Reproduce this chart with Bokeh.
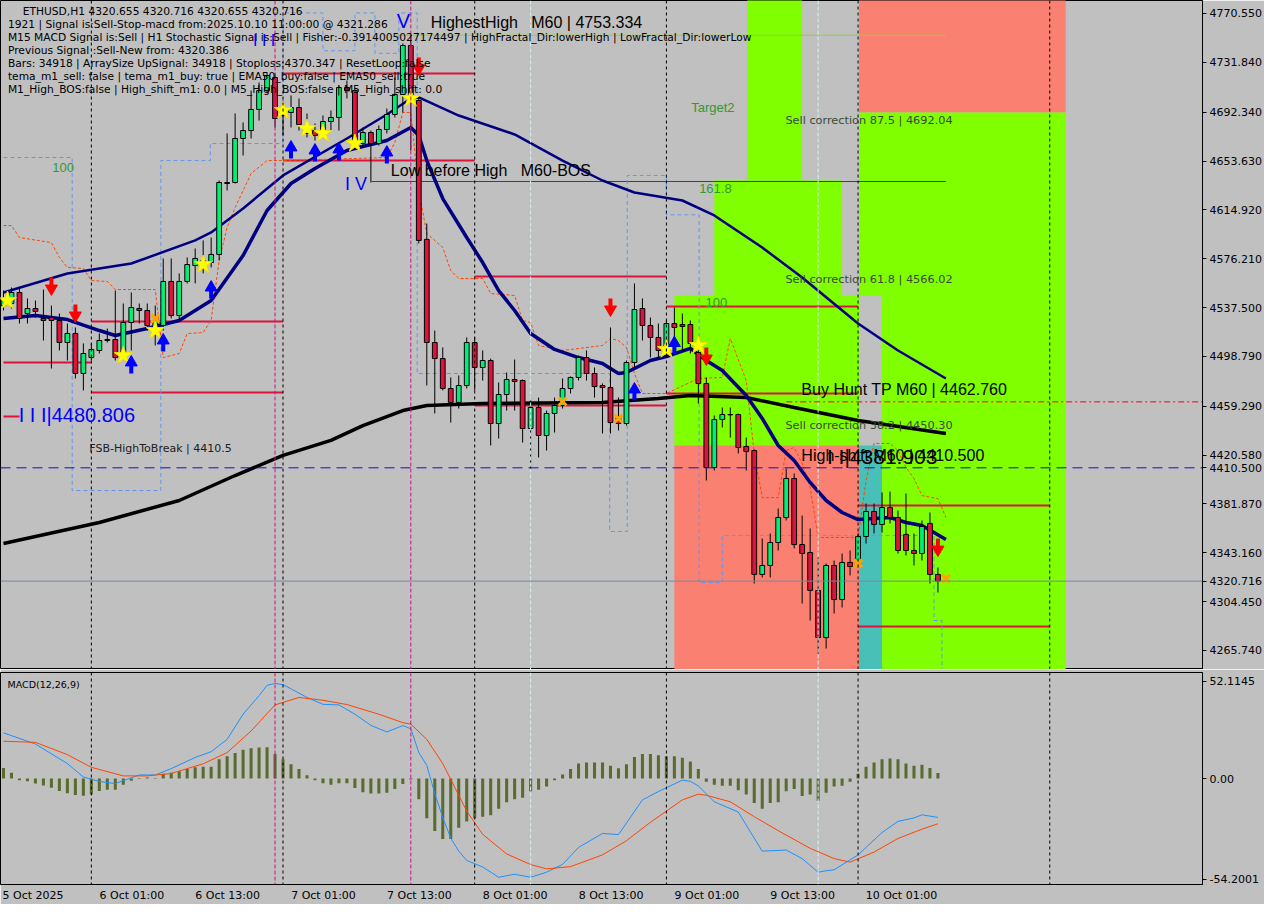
from bokeh.plotting import figure
from bokeh.models import Range1d, FixedTicker, Span, Label, PrintfTickFormatter
from bokeh.layouts import column
from bokeh.embed import file_html
from bokeh.resources import INLINE

# ---------------- data ----------------
opens = [4539.1,4540.7,4549.45,4532.8,4536.75,4528.8,4529.6,4527.25,4509.8,4517.0,
         4485.25,4497.9,4503.5,4512.2,4512.2,4501.1,4525.65,4536.75,4535.2,4523.3,
         4523.3,4558.2,4531.2,4558.2,4570.8,4569.3,4573.2,4579.6,4636.6,4636.6,
         4671.5,4677.8,4694.5,4709.5,4719.8,4689.7,4692.1,4696.05,4679.4,4677.8,
         4677.8,4684.95,4688.1,4711.9,4709.5,4667.5,4676.25,4667.5,4678.6,4690.5,
         4706.4,4745.2,4701.6,4591.5,4509.8,4497.1,4473.35,4462.3,4475.7,4509.8,
         4490.0,4495.55,4445.6,4468.6,4480.5,4479.7,4441.65,4458.3,4436.1,4453.55,
         4459.9,4473.35,4482.1,4497.9,4485.25,4475.7,4474.1,4450.4,4445.6,4493.95,
         4536.75,4523.3,4513.8,4503.5,4524.85,4524.05,4524.05,4501.9,4477.3,4410.75,
         4448.8,4452.75,4452.75,4427.4,4424.2,4326.0,4333.1,4351.3,4371.1,4402.05,
         4349.7,4343.4,4313.3,4276.0,4333.1,4306.1,4335.5,4335.5,4356.1,4375.9,
         4365.6,4379.05,4371.1,4357.7,4345.0,4342.6,4366.4,4326.0]
highs = [4551.0,4553.4,4553.4,4544.7,4543.1,4551.8,4539.1,4532.8,4524.85,4521.7,
         4509.05,4509.05,4517.0,4520.9,4551.0,4540.7,4549.45,4540.7,4540.7,4539.1,
         4576.4,4576.4,4564.5,4577.2,4584.3,4590.7,4593.0,4638.2,4675.45,4691.3,
         4684.2,4709.5,4715.9,4723.8,4723.0,4701.6,4705.6,4703.2,4691.3,4683.4,
         4689.7,4693.7,4713.5,4717.45,4711.0,4680.2,4677.8,4681.8,4695.25,4719.8,
         4746.8,4753.33,4704.0,4604.1,4519.3,4505.9,4482.1,4483.7,4513.8,4513.8,
         4503.5,4497.1,4478.1,4486.05,4496.3,4480.5,4466.2,4466.2,4455.9,4466.2,
         4481.3,4482.9,4499.5,4503.5,4490.0,4477.3,4521.7,4466.2,4495.55,4556.6,
         4544.7,4529.6,4524.85,4527.25,4537.55,4532.8,4527.25,4503.5,4482.1,4452.0,
         4458.3,4458.3,4453.5,4434.5,4425.0,4354.5,4358.45,4378.25,4409.95,4406.0,
         4372.7,4362.4,4339.45,4334.7,4337.05,4342.6,4345.0,4358.45,4382.2,4382.2,
         4390.95,4391.7,4376.7,4390.15,4358.45,4368.75,4375.1,4331.5]
lows = [4535.2,4536.75,4524.85,4524.85,4529.6,4511.4,4489.2,4503.5,4495.55,4481.3,
        4471.8,4495.55,4501.1,4509.8,4495.55,4497.9,4503.5,4524.85,4519.3,4507.45,
        4519.3,4528.8,4527.25,4556.6,4556.6,4564.5,4569.3,4574.8,4630.3,4635.8,
        4658.0,4671.5,4685.75,4707.2,4680.2,4673.9,4680.2,4677.8,4672.3,4669.9,
        4672.3,4677.8,4677.8,4703.2,4664.35,4664.35,4636.6,4665.9,4675.45,4688.1,
        4692.1,4662.0,4588.3,4475.7,4453.55,4471.8,4446.4,4457.5,4473.35,4471.8,
        4479.7,4428.2,4433.7,4455.9,4455.9,4430.55,4408.4,4418.7,4424.2,4438.5,
        4457.5,4469.4,4479.7,4479.7,4466.2,4437.7,4437.7,4440.1,4444.0,4490.0,
        4511.4,4497.9,4497.9,4499.5,4501.1,4503.5,4501.1,4461.5,4400.45,4408.4,
        4442.45,4434.5,4421.85,4408.4,4318.8,4323.6,4323.6,4345.0,4368.75,4346.6,
        4302.95,4289.5,4263.3,4267.3,4295.05,4299.8,4325.2,4333.1,4350.5,4358.45,
        4359.25,4366.4,4342.6,4341.0,4333.1,4337.05,4318.8,4311.7]
closes = [4544.7,4549.45,4528.8,4536.75,4534.4,4527.25,4527.25,4509.8,4517.0,4485.25,
          4501.1,4504.3,4511.4,4511.4,4497.9,4525.65,4537.55,4535.2,4523.3,4527.25,
          4558.2,4531.2,4558.2,4571.6,4576.4,4574.8,4579.6,4636.6,4635.8,4671.5,
          4677.8,4694.5,4709.5,4721.4,4687.3,4693.7,4696.05,4682.6,4675.45,4673.9,
          4684.95,4688.1,4711.9,4709.5,4667.5,4676.25,4667.5,4678.6,4690.5,4706.4,
          4745.2,4705.6,4590.7,4509.8,4497.1,4473.35,4462.3,4475.7,4509.8,4490.0,
          4495.55,4445.6,4468.6,4480.5,4478.9,4441.65,4458.3,4436.1,4453.55,4459.9,
          4473.35,4482.1,4497.9,4485.25,4474.9,4474.1,4446.4,4445.6,4493.95,4535.95,
          4523.3,4513.8,4503.5,4524.85,4521.7,4522.5,4509.05,4477.3,4410.75,4448.8,
          4452.75,4452.5,4426.6,4423.4,4326.0,4333.1,4351.3,4371.1,4402.05,4349.7,
          4342.6,4313.3,4276.0,4333.1,4306.1,4335.5,4332.3,4356.1,4375.9,4365.6,
          4379.05,4371.1,4345.0,4345.0,4342.6,4364.0,4326.0,4320.716]

time_tick_bars = [0, 12, 24, 36, 48, 60, 72, 84, 96, 108]
time_tick_labels = ["5 Oct 2025", "6 Oct 01:00", "6 Oct 13:00", "7 Oct 01:00", "7 Oct 13:00",
                    "8 Oct 01:00", "8 Oct 13:00", "9 Oct 01:00", "9 Oct 13:00", "10 Oct 01:00"]
price_ticks = [4770.550, 4731.840, 4692.340, 4653.630, 4614.920, 4576.210, 4537.500,
               4498.790, 4459.290, 4420.580, 4381.870, 4343.160, 4304.450, 4265.740]
macd_ticks = [52.1145, 0.0, -54.2001]
macd_tick_labels = ["52.1145", "0.00", "-54.2001"]

# moving averages (bar index, value)
fast_k = [0,4,8,12,14,18,22,26,30,33,36,39,43,45,48,51,52,53,55,58,60,62,64,66,69,72,75,77,78,81,
          83,86,88,90,93,95,97,99,101,103,105,107,109,111,113,115,118]
fast_v = [4528.8,4531.2,4528.0,4519.3,4515.4,4520.9,4527.25,4543.1,4578.8,4614.4,4635.8,4647.7,
          4662.0,4665.1,4669.9,4680.2,4673.9,4654.0,4623.9,4593.0,4573.2,4551.0,4535.2,4517.0,
          4504.3,4497.9,4493.2,4485.25,4486.05,4495.55,4498.7,4505.1,4495.55,4487.6,4467.8,
          4449.6,4428.2,4416.3,4398.9,4384.6,4375.1,4369.5,4370.3,4371.1,4367.2,4364.8,4353.7]
ema50_k = [0,8,16,24,26,30,35,43,48,51,52,57,64,70,75,79,85,89,95,100,107,112,118]
ema50_v = [4549.45,4564.5,4572.4,4590.7,4597.0,4616.0,4642.2,4671.5,4690.5,4703.2,4704.0,
           4689.7,4674.7,4654.0,4638.2,4628.7,4622.35,4610.5,4585.1,4561.3,4524.85,4503.5,4481.3]
ma200_k = [0,12,22,29,35,41,45,50,53,60,75,82,86,93,99,107,118]
ma200_v = [4350.5,4367.2,4384.6,4404.4,4420.3,4432.2,4444.0,4455.9,4459.9,4461.5,4462.3,
           4465.45,4467.8,4466.2,4458.3,4448.0,4437.7]
trail_k = [0,1,2,6,7,8,10,11,13,14,19,20,22,23,25,26,27,28,29,31,33,35,48,49,50,51,52,53,55,56,
           57,60,61,64,65,66,67,70,75,76,77,78,79,80,83,87,90,91,93,94,95,97,98,99,100,101,102,
           107,108,109,111,112,113,114,115,117,118]
trail_v = [4602.5,4602.5,4593.0,4589.0,4577.2,4569.3,4568.5,4558.9,4558.2,4551.8,4551.8,4497.9,
           4501.1,4516.9,4517.7,4527.25,4574.8,4601.0,4616.8,4643.7,4654.0,4654.0,4656.4,4668.3,
           4692.1,4692.1,4630.3,4596.2,4585.1,4566.8,4560.5,4560.5,4548.65,4547.1,4527.25,
           4525.65,4507.45,4503.5,4507.45,4513.0,4511.4,4505.9,4485.25,4469.4,4469.4,4481.3,
           4482.1,4513.0,4479.7,4421.85,4386.9,4386.9,4424.2,4426.6,4413.9,4394.9,4355.3,
           4355.3,4400.45,4429.8,4429.8,4424.2,4410.75,4402.05,4388.5,4386.1,4371.1]
chan_k = [0,8.6,19.7,25.9,35,40,44,46.5,49.5,51.8,75.9,78.1,83,87.1,90,116.5,117.5]
chan_v = [4656.4,4392.5,4654.0,4667.5,4771,4741,4771,4739,4771,4485.25,4360.0,4642.2,4611.0,
          4319.6,4356.9,4289.5,4250]

# zones
zone_left = [93.125, 89, 84, 84, 107.125, 107.125, 110, 107.125]
zone_right = [100, 105, 107.125, 107.125, 133, 133, 133, 110]
zone_bottom = [4638.2, 4547.1, 4428.2, 4240, 4692.1, 4547.1, 4240, 4240]
zone_top = [4790, 4638.2, 4547.1, 4428.2, 4790, 4692.1, 4547.1, 4428.2]
zone_kind = ["buy", "buy", "buy", "sell", "sell", "buy", "buy", "shift"]

# levels
lvl_from = [35, 35, 59, 83, 11, 0, 11, 59, 83, 0, 107, 107]
lvl_to = [59, 59, 83, 107, 35, 11, 35, 83, 107, 2, 131, 131]
lvl_price = [4723.0, 4654.0, 4562.1, 4538.35, 4526.4, 4494.0, 4470.2, 4459.9, 4469.4, 4451.2,
             4380.65, 4284.75]
highest_high = 4753.334
low_before_high = 4637.4
buy_hunt_tp = 4462.760
fsb_level = 4410.5
last_price = 4320.716

# signals
star_k = [0.5, 15, 19, 25, 35, 38, 40, 44, 51, 83, 87]
star_p = [4543.1, 4499.5, 4519.3, 4571.6, 4693.7, 4679.4, 4675.45, 4667.5, 4703.2, 4504.3, 4507.45]
cross_k = [19, 70, 77, 107, 118]
cross_p = [4528.8, 4463.0, 4449.6, 4334.7, 4322.8]
down_k = [6, 9, 52, 76, 88, 117]
down_p = [4555.0, 4533.6, 4729.3, 4538.35, 4499.5, 4348.1]
up_k = [16, 20, 26, 36, 39, 42, 48, 79, 84]
up_p = [4491.6, 4509.05, 4551.0, 4662.0, 4659.6, 4660.4, 4658.0, 4470.2, 4507.0]

# MACD panel
macd_hist = [5.6,3.1,-0.9,-1.5,-2.7,-3.8,-5.0,-6.7,-7.9,-8.9,-9.3,-8.4,-6.7,-6.0,-6.0,-3.4,-1.2,0.3,
             0.5,0.3,2.6,3.1,3.9,5.1,6.0,6.3,6.3,10.3,12.0,13.7,15.4,16.3,16.6,16.8,13.2,10.3,7.7,
             5.1,1.7,-0.9,-2.6,-3.4,-2.6,-2.6,-5.1,-7.4,-8.1,-8.1,-7.7,-5.6,-2.9,-0.5,-11.1,-21.4,
             -28.2,-32.5,-32.5,-26.5,-23.1,-21.4,-20.5,-19.7,-16.3,-12.8,-11.1,-10.3,-6.8,-6.0,
             -4.3,-0.9,2.2,5.1,8.0,8.6,8.6,8.6,6.8,5.5,7.7,11.5,13.2,13.2,12.5,12.0,12.0,11.1,9.1,
             5.1,-1.7,-3.4,-3.9,-3.9,-6.3,-8.6,-13.2,-16.3,-13.2,-12.8,-6.8,-5.6,-9.4,-8.6,-12.0,
             -7.7,-4.3,-3.9,-1.7,2.6,6.3,8.6,10.3,10.8,10.3,8.0,6.8,7.4,5.6,2.9]
macd_k = [0,4,8,10,12,14,17,19,21,24,26,28,30,32,33,34,35,38,40,42,44,46,48,50,51,52,53,54,55,56,
          57,58,60,62,64,66,68,70,72,75,77,80,82,85,86,87,89,92,94,95,98,100,102,103,104,107,110,
          112,114,115,117]
macd_v = [24.5,18.5,8.0,0.8,-1.6,-2.7,1.9,1.9,5.3,11.3,14.4,21.0,34.5,44.5,50.0,51.0,50.4,43.5,
          39.8,39.5,34.5,28.5,25.0,28.4,26.7,14.0,7.0,-8.0,-21.0,-32.0,-39.0,-44.0,-47.5,-53.0,
          -51.4,-53.0,-50.3,-46.1,-37.0,-29.5,-30.1,-11.5,-7.0,-0.9,-1.5,-4.0,-12.5,-18.0,-32.0,
          -39.0,-38.4,-43.0,-50.3,-49.5,-49.0,-41.0,-29.0,-23.0,-21.2,-19.5,-20.9]
sig_k = [0,4,8,11,15,18,21,25,28,31,34,37,40,43,47,50,51,53,55,58,60,63,66,68,71,75,78,81,85,87,
         88,91,94,97,101,104,106,109,112,115,117]
sig_v = [20.0,19.4,12.8,6.0,1.4,1.4,2.7,7.9,13.9,25.5,39.5,43.5,42.0,39.7,34.5,30.0,29.2,21.0,8.0,
         -17.5,-30.0,-40.5,-46.2,-48.5,-47.3,-41.0,-33.4,-23.5,-11.5,-8.4,-9.0,-12.5,-20.5,-28.0,
         -37.5,-43.0,-44.9,-39.5,-32.2,-27.2,-24.3]

day_sep_bars = [11, 35, 59, 83, 107, 131]
event_bars = [34, 51]
cyan_bars = [66, 102]

info_lines = [
    "ETHUSD,H1  4320.655 4320.716 4320.655 4320.716",
    "1921 | Signal is:Sell-Stop-macd from:2025.10.10 11:00:00 @ 4321.286",
    "M15 MACD Signal is:Sell | H1 Stochastic Signal is:Sell | Fisher:-0.3914005027174497 | HighFractal_Dir:lowerHigh | LowFractal_Dir:lowerLow",
    "Previous Signal :Sell-New from: 4320.386",
    "Bars: 34918 | ArraySize UpSignal: 34918 | Stoploss:4370.347 | ResetLoop:false",
    "tema_m1_sell: false | tema_m1_buy: true | EMA50_buy:false | EMA50_sell:true",
    "M1_High_BOS:false | High_shift_m1: 0.0 | M5_High_BOS:false | M5_High_shift: 0.0",
]

# ---------------- styling ----------------
BG = "#C0C0C0"
BULL = "#00EE76"
BEAR = "#DC143C"
ZONE_COL = {"buy": "#7FFF00", "sell": "#FA8072", "shift": "#48C0B8"}
AX_FONT = "DejaVu Sans"
TXT_FONT = "Liberation Sans"
NB = "\u00a0"
PX = 0.7925  # price units per screen pixel in the main panel

x_range = Range1d(-0.375, 150.125)


def style_right_axis(ax):
    ax.axis_line_color = "black"
    ax.major_tick_line_color = "black"
    ax.major_tick_in = 0
    ax.major_tick_out = 4
    ax.minor_tick_line_color = None
    ax.major_label_standoff = 3
    ax.major_label_text_font = AX_FONT
    ax.major_label_text_font_size = "11px"
    ax.major_label_text_color = "black"


p = figure(width=1264, height=669, x_range=x_range, y_range=Range1d(4250.67, 4780.85),
           output_backend="svg", toolbar_location=None, x_axis_location=None,
           y_axis_location="right", min_border_left=0, min_border_right=60,
           min_border_top=0, min_border_bottom=0, background_fill_color=BG,
           border_fill_color=BG, outline_line_color="black")
p.grid.visible = False
yax = p.yaxis[0]
yax.ticker = FixedTicker(ticks=price_ticks + [fsb_level, last_price])
yax.formatter = PrintfTickFormatter(format="%.3f")
style_right_axis(yax)

# zones
p.quad(left=zone_left, right=zone_right, bottom=zone_bottom, top=zone_top,
       fill_color=[ZONE_COL[z] for z in zone_kind], line_color=None)

# vertical lines
for b in day_sep_bars:
    p.add_layout(Span(location=b, dimension="height", line_color="black", line_dash="3 3", line_width=1))
for b in event_bars:
    p.add_layout(Span(location=b, dimension="height", line_color="#C71585", line_dash="4 2", line_width=1))
for b in cyan_bars:
    p.add_layout(Span(location=b, dimension="height", line_color="#D8F0F0", line_dash="4 2", line_width=1))

# horizontal levels
p.segment(x0=lvl_from, y0=lvl_price, x1=lvl_to, y1=lvl_price, line_color=BEAR, line_width=2)
p.segment(x0=[49], y0=[highest_high], x1=[118], y1=[highest_high], line_color="#9ACD32", line_width=1)
p.segment(x0=[46.1], y0=[low_before_high], x1=[118], y1=[low_before_high], line_color="#5A3A32", line_width=1)
p.segment(x0=[98], y0=[buy_hunt_tp], x1=[151], y1=[buy_hunt_tp], line_color="#FF0000",
          line_width=1, line_dash="6 3 2 3")
p.add_layout(Span(location=fsb_level, dimension="width", line_color="#1010C0", line_dash="10 6", line_width=1))
p.add_layout(Span(location=last_price, dimension="width", line_color="#7888A0", line_width=1))

# indicator lines
p.step(chan_k, chan_v, mode="after", line_color="#6495ED", line_dash="4 3", line_width=1)
p.line(trail_k, trail_v, line_color="#FF4500", line_dash="3 2", line_width=1)
p.line(ma200_k, ma200_v, line_color="black", line_width=3.5)
p.line(ema50_k, ema50_v, line_color="#000080", line_width=2.5)
p.line(fast_k, fast_v, line_color="#000080", line_width=3.5)

# candles
idx = list(range(len(opens)))
p.segment(x0=idx, y0=lows, x1=idx, y1=highs, line_color="black", line_width=1)
tops = [max(o, c) for o, c in zip(opens, closes)]
bots = [min(o, c) for o, c in zip(opens, closes)]
cols = [BULL if c > o else BEAR for o, c in zip(opens, closes)]
p.vbar(x=idx, width=0.6, top=tops, bottom=bots, fill_color=cols, line_color="black", line_width=1)

# signals
p.scatter(star_k, star_p, marker="star", size=19, fill_color="#FFFF00", line_color="#F0E000")
p.scatter(cross_k, cross_p, marker="x", size=11, line_color="#FFA500", line_width=3)
# arrows: thick shaft + triangular head
p.segment(x0=down_k, y0=[v + 8 * PX for v in down_p], x1=down_k, y1=[v - 1 * PX for v in down_p],
          line_color="#FF0000", line_width=4)
p.scatter(down_k, [v - 3 * PX for v in down_p], marker="inverted_triangle", size=12,
          fill_color="#FF0000", line_color="#FF0000")
p.segment(x0=up_k, y0=[v - 8 * PX for v in up_p], x1=up_k, y1=[v + 1 * PX for v in up_p],
          line_color="#0000FF", line_width=4)
p.scatter(up_k, [v + 3 * PX for v in up_p], marker="triangle", size=12,
          fill_color="#0000FF", line_color="#0000FF")


def lab(fig, x, y, text, size, color="black", font=TXT_FONT):
    l = Label(x=x, y=y, text=text, text_font=font, text_font_size=size,
              text_color=color, text_baseline="middle", text_align="left")
    fig.add_layout(l)
    return l


info_y = [4772.1, 4761.8, 4751.5, 4741.2, 4730.9, 4720.6, 4710.3]
for i, (t, yy) in enumerate(zip(info_lines, info_y)):
    lab(p, 2.4 if i == 0 else 0.55, yy, t, "10.7px", font=AX_FONT)

lab(p, 53.5, 4763.4, "HighestHigh" + NB * 3 + "M60 | 4753.334", "16px")
lab(p, 48.5, 4646.1, "Low before High" + NB * 3 + "M60-BOS", "16px")
lab(p, 99.9, 4472.6, "Buy Hunt TP M60 | 4462.760", "16px")
lab(p, 99.9, 4420.3, "High-shift M60 | 4410.500", "16px")
lab(p, 103.1, 4419.5, "I I|4381.903", "21px")
lab(p, 1.9, 4452.7, "I I I|4480.806", "20px", color="#0000FF")
lab(p, 49.25, 4765.0, "V", "20px", color="#0000FF")
lab(p, 31.25, 4749.15, "I I I", "16px", color="#0000FF")
lab(p, 42.75, 4635.8, "I V", "18px", color="#0000FF")
lab(p, 10.75, 4425.5, "FSB-HighToBreak | 4410.5", "11px", color="#202020", font=AX_FONT)
lab(p, 6.1, 4648.5, "100", "13px", color="#339933")
lab(p, 87.9, 4541.5, "100", "13px", color="#339933")
lab(p, 87.1, 4631.9, "161.8", "13px", color="#339933")
lab(p, 86.1, 4696.05, "Target2", "13px", color="#339933")
lab(p, 97.9, 4685.75, "Sell correction 87.5 | 4692.04", "11.3px", color="#3A4A3A", font=AX_FONT)
lab(p, 97.9, 4559.7, "Sell correction 61.8 | 4566.02", "11.3px", color="#3A4A3A", font=AX_FONT)
lab(p, 97.9, 4444.0, "Sell correction 38.2 | 4450.30", "11.3px", color="#3A4A3A", font=AX_FONT)

# ---------------- MACD panel ----------------
q = figure(width=1264, height=235, x_range=x_range, y_range=Range1d(-56.9, 56.9),
           output_backend="svg", toolbar_location=None, x_axis_location="below",
           y_axis_location="right", min_border_left=0, min_border_right=60,
           min_border_top=3, min_border_bottom=18, background_fill_color=BG,
           border_fill_color=BG, outline_line_color="black")
q.grid.visible = False
qy = q.yaxis[0]
qy.ticker = FixedTicker(ticks=macd_ticks)
qy.major_label_overrides = {t: s for t, s in zip(macd_ticks, macd_tick_labels)}
style_right_axis(qy)

qx = q.xaxis[0]
tick_pos = [round(b + len(s) * 0.37, 3) for b, s in zip(time_tick_bars, time_tick_labels)]
qx.ticker = FixedTicker(ticks=tick_pos)
qx.major_label_overrides = {t: s for t, s in zip(tick_pos, time_tick_labels)}
qx.axis_line_color = "black"
qx.major_tick_line_color = None
qx.minor_tick_line_color = None
qx.major_tick_out = 0
qx.major_tick_in = 0
qx.major_label_standoff = 4
qx.major_label_text_font = AX_FONT
qx.major_label_text_font_size = "11px"
qx.major_label_text_color = "black"

for b in day_sep_bars:
    q.add_layout(Span(location=b, dimension="height", line_color="black", line_dash="3 3", line_width=1))
for b in event_bars:
    q.add_layout(Span(location=b, dimension="height", line_color="#C71585", line_dash="4 2", line_width=1))
for b in cyan_bars:
    q.add_layout(Span(location=b, dimension="height", line_color="#D8F0F0", line_dash="4 2", line_width=1))

q.vbar(x=idx, width=0.38, top=[max(h, 0) for h in macd_hist], bottom=[min(h, 0) for h in macd_hist],
       fill_color="#5A6B2E", line_color=None)
q.line(macd_k, macd_v, line_color="#1E90FF", line_width=1)
q.line(sig_k, sig_v, line_color="#FF4500", line_width=1)
lab(q, 0.5, 50.5, "MACD(12,26,9)", "9.5px", font=AX_FONT)

layout = column(p, q, spacing=0)
open("out.html", "w").write(file_html(layout, INLINE))
